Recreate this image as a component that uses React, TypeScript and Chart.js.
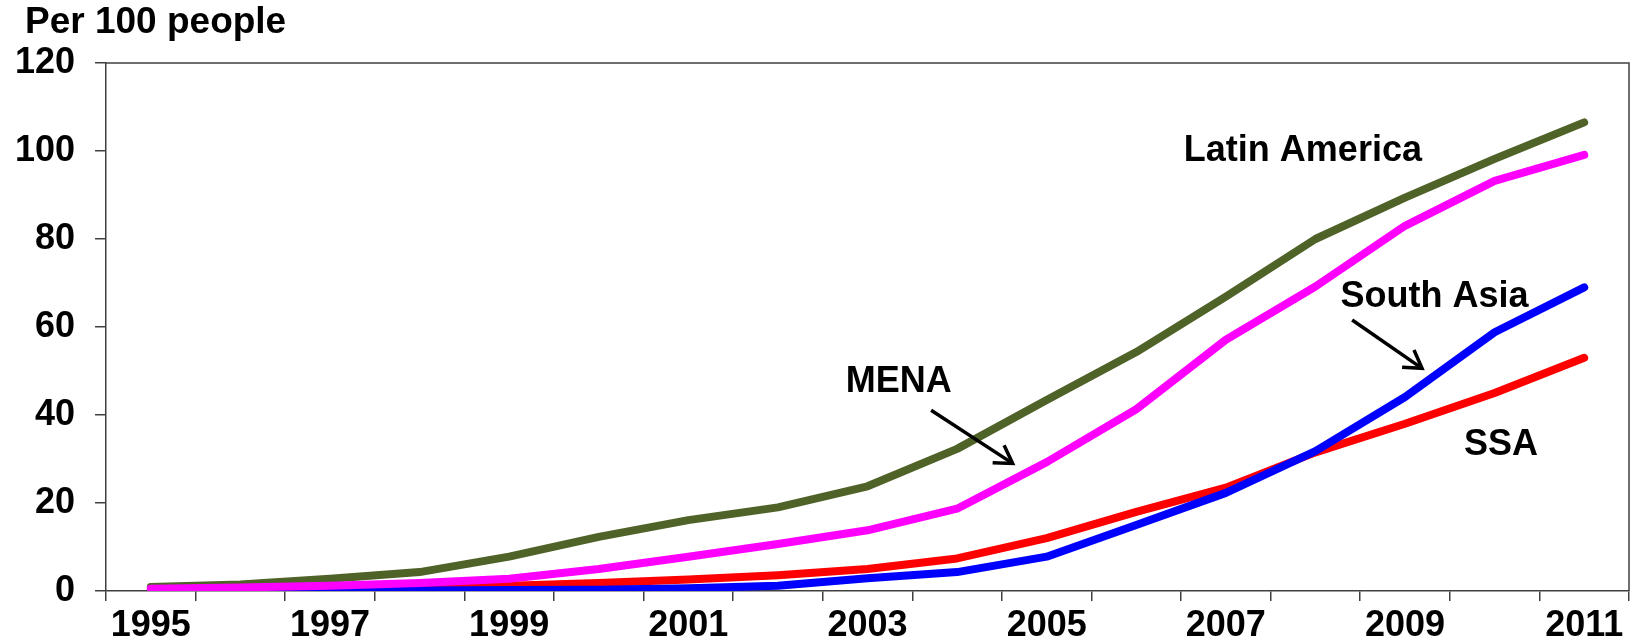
import React, { useEffect, useRef } from "react";
import { Chart, registerables } from "chart.js";

Chart.register(...registerables);

const years = ["1995","1996","1997","1998","1999","2000","2001","2002","2003","2004","2005","2006","2007","2008","2009","2010","2011"];
const latinAmerica = [0.9, 1.5, 2.8, 4.3, 7.8, 12.3, 16.1, 19.0, 23.8, 32.3, 43.4, 54.3, 66.9, 80.0, 89.4, 98.2, 106.5];
const mena = [0.5, 0.8, 1.2, 1.8, 2.8, 5.0, 7.8, 10.7, 13.8, 18.7, 29.3, 41.3, 57.1, 69.2, 83.0, 93.2, 99.1];
const ssa = [0.2, 0.3, 0.5, 0.8, 1.2, 1.8, 2.6, 3.6, 5.0, 7.4, 12.0, 18.0, 23.5, 31.5, 38.0, 45.0, 53.0];
const southAsia = [0.05, 0.1, 0.1, 0.1, 0.2, 0.3, 0.6, 1.2, 2.9, 4.3, 7.8, 15.0, 22.3, 31.8, 44.1, 58.8, 69.0];
const yTicks = [0, 20, 40, 60, 80, 100, 120];

// annotation anchors in data units: [category index, value]
const labels = [
  { text: "Latin America", at: [12.86, 100.0] },
  { text: "MENA", at: [8.35, 47.4] },
  { text: "South Asia", at: [14.33, 66.8] },
  { text: "SSA", at: [15.07, 33.2] },
];
const arrows = [
  { from: [8.71, 41.1], to: [9.62, 29.0] },
  { from: [13.41, 61.6], to: [14.19, 50.6] },
];

const FONT = "'Liberation Sans', Arial, sans-serif";
const AXIS = "#404040";

const deco = {
  id: "deco",
  afterDraw(chart: any) {
    const { ctx, chartArea: a, scales } = chart;
    const xs = scales.x, ys = scales.y;
    ctx.save();
    // box top & right
    ctx.strokeStyle = AXIS;
    ctx.lineWidth = 1.5;
    ctx.beginPath();
    ctx.moveTo(a.left, a.top);
    ctx.lineTo(a.right, a.top);
    ctx.lineTo(a.right, a.bottom);
    ctx.stroke();
    // title
    ctx.fillStyle = "#000";
    ctx.font = `bold 37px ${FONT}`;
    ctx.textAlign = "left";
    ctx.textBaseline = "alphabetic";
    ctx.fillText("Per 100 people", 25, 33);
    // labels
    ctx.font = `bold 36px ${FONT}`;
    ctx.textAlign = "center";
    ctx.textBaseline = "middle";
    for (const l of labels) {
      ctx.fillText(l.text, xs.getPixelForValue(l.at[0]), ys.getPixelForValue(l.at[1]));
    }
    // arrows
    ctx.strokeStyle = "#000";
    ctx.lineWidth = 3.5;
    ctx.lineCap = "butt";
    ctx.lineJoin = "miter";
    for (const ar of arrows) {
      const x1 = xs.getPixelForValue(ar.from[0]), y1 = ys.getPixelForValue(ar.from[1]);
      const x2 = xs.getPixelForValue(ar.to[0]), y2 = ys.getPixelForValue(ar.to[1]);
      const ang = Math.atan2(y2 - y1, x2 - x1);
      const h = 20, s = 0.55;
      ctx.beginPath();
      ctx.moveTo(x1, y1);
      ctx.lineTo(x2, y2);
      ctx.stroke();
      ctx.beginPath();
      ctx.moveTo(x2 - h * Math.cos(ang - s), y2 - h * Math.sin(ang - s));
      ctx.lineTo(x2, y2);
      ctx.lineTo(x2 - h * Math.cos(ang + s), y2 - h * Math.sin(ang + s));
      ctx.stroke();
    }
    ctx.restore();
  },
};

export default function App() {
  const ref = useRef<HTMLCanvasElement>(null);
  useEffect(() => {
    if (!ref.current) return;
    const mk = (label: string, data: number[], color: string) => ({
      label, data, borderColor: color, backgroundColor: color, borderWidth: 8,
      pointRadius: 0, tension: 0, borderCapStyle: "round", borderJoinStyle: "round", fill: false,
    });
    const chart = new Chart(ref.current, {
      type: "line",
      data: {
        labels: years,
        datasets: [
          mk("MENA", mena, "#FF00FF"),
          mk("Latin America", latinAmerica, "#4F6228"),
          mk("South Asia", southAsia, "#0000FF"),
          mk("SSA", ssa, "#FF0000"),
        ] as any,
      },
      options: {
        animation: false,
        responsive: false,
        maintainAspectRatio: false,
        layout: { padding: { top: 63, right: 11, left: 0, bottom: 0 } },
        plugins: { legend: { display: false }, tooltip: { enabled: false }, title: { display: false } },
        scales: {
          x: {
            type: "category",
            offset: true,
            grid: { offset: true, drawOnChartArea: false, tickLength: 10, color: AXIS, lineWidth: 1.5 },
            border: { color: AXIS, width: 1.5 },
            ticks: {
              autoSkip: false, maxRotation: 0, padding: 3, color: "#000",
              font: { family: FONT, size: 36, weight: "bold" },
              callback: (_v: any, i: number) => (i % 2 === 0 ? years[i] : ""),
            },
            afterFit: (s: any) => { s.height = 52; },
          },
          y: {
            min: 0, max: 120,
            afterBuildTicks: (s: any) => { s.ticks = yTicks.map((v) => ({ value: v })); },
            grid: { drawOnChartArea: false, tickLength: 11, color: AXIS, lineWidth: 1.5 },
            border: { color: AXIS, width: 1.5 },
            ticks: { padding: 20, color: "#000", font: { family: FONT, size: 36, weight: "bold" } },
            afterFit: (s: any) => { s.width = 106; },
          },
        },
      } as any,
      plugins: [deco],
    });
    return () => chart.destroy();
  }, []);
  return (
    <div style={{ position: "fixed", left: 0, top: 0, width: 1640, height: 643, background: "#fff" }}>
      <canvas ref={ref} width={1640} height={643} style={{ width: 1640, height: 643 }} />
    </div>
  );
}
